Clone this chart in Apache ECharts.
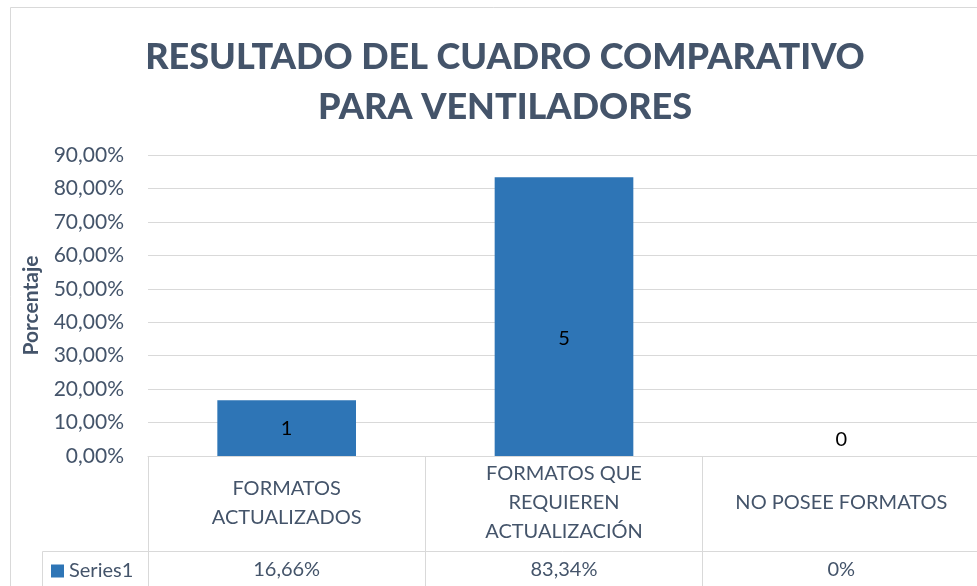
<!DOCTYPE html>
<html>
<head>
<meta charset="utf-8">
<script src="https://cdn.jsdelivr.net/npm/echarts@6/dist/echarts.min.js"></script>
<style>
  html, body { margin: 0; padding: 0; background: #fff; }
  #chart { width: 977px; height: 586px; }
</style>
</head>
<body>
<div id="chart"></div>
<script>
// datos del gráfico
const categories = ['FORMATOS\nACTUALIZADOS', 'FORMATOS QUE\nREQUIEREN\nACTUALIZACIÓN', 'NO POSEE FORMATOS']
const percentValues = [16.66, 83.34, 0]
const countLabels = [1, 5, 0]
const tableLabels = ['16,66%', '83,34%', '0%']
const yTicks = [0, 10, 20, 30, 40, 50, 60, 70, 80, 90]

const textColor = '#44546a'
const lineColor = '#d9d9d9'
const font = 'Lato, "Open Sans", sans-serif'

const chart = echarts.init(document.getElementById('chart'))

// posición de cada etiqueta de conteo
const labelSpots = [
  { position: 'inside', offset: [0, 0] },
  { position: 'inside', offset: [0, 22] },
  { position: 'top', offset: [0, 0] }
]

const option = {
  backgroundColor: '#fff',
  title: {
    text: 'RESULTADO DEL CUADRO COMPARATIVO\nPARA VENTILADORES',
    left: 500,
    top: 27,
    textAlign: 'center',
    textStyle: {
      fontFamily: font,
      fontWeight: 900,
      fontSize: 36,
      lineHeight: 50,
      color: textColor
    }
  },
  legend: {
    data: ['Series1'],
    left: 46,
    top: 556,
    icon: 'rect',
    itemWidth: 13,
    itemHeight: 13,
    itemGap: 6,
    textStyle: { fontFamily: font, fontSize: 20, color: textColor }
  },
  grid: {
    left: 148,
    top: 155,
    right: -3,
    bottom: 130,
    outerBoundsMode: 'none',
    containLabel: false
  },
  xAxis: [
    {
      type: 'category',
      data: categories,
      position: 'bottom',
      axisLine: { lineStyle: { color: lineColor } },
      axisTick: { show: true, length: 130, lineStyle: { color: lineColor } },
      axisLabel: {
        interval: 0,
        margin: 47,
        verticalAlign: 'middle',
        fontFamily: font,
        fontSize: 20,
        lineHeight: 29,
        color: textColor
      }
    },
    {
      type: 'category',
      data: tableLabels,
      position: 'bottom',
      offset: 95,
      axisLine: { show: true, lineStyle: { color: lineColor } },
      axisTick: { show: false },
      axisLabel: {
        interval: 0,
        margin: 19,
        verticalAlign: 'middle',
        fontFamily: font,
        fontSize: 20,
        color: textColor
      }
    }
  ],
  yAxis: {
    type: 'value',
    min: yTicks[0],
    max: yTicks[yTicks.length - 1],
    interval: 10,
    name: 'Porcentaje',
    nameLocation: 'middle',
    nameGap: 106,
    nameRotate: 90,
    nameTextStyle: { fontFamily: font, fontWeight: 'bold', fontSize: 21, color: textColor },
    axisLine: { show: false },
    axisTick: { show: false },
    axisLabel: {
      margin: 24,
      fontFamily: font,
      fontSize: 21,
      color: textColor,
      formatter: v => v.toFixed(2).replace('.', ',') + '%'
    },
    splitLine: { lineStyle: { color: lineColor, width: 1 } }
  },
  series: [
    {
      name: 'Series1',
      type: 'bar',
      xAxisIndex: 0,
      barWidth: '50%',
      itemStyle: { color: '#2e75b6' },
      data: percentValues.map((v, i) => ({
        value: v,
        label: {
          show: true,
          position: labelSpots[i].position,
          offset: labelSpots[i].offset,
          distance: 6,
          formatter: () => String(countLabels[i]),
          fontFamily: font,
          fontSize: 20,
          color: '#000'
        }
      }))
    }
  ],
  graphic: [
    // borde exterior
    { type: 'line', shape: { x1: 10.5, y1: 7.5, x2: 10.5, y2: 586 }, style: { stroke: lineColor, lineWidth: 1 } },
    { type: 'line', shape: { x1: 10.5, y1: 7.5, x2: 977, y2: 7.5 }, style: { stroke: lineColor, lineWidth: 1 } },
    // celda de la leyenda en la tabla
    { type: 'line', shape: { x1: 42.5, y1: 551.5, x2: 148, y2: 551.5 }, style: { stroke: lineColor, lineWidth: 1 } },
    { type: 'line', shape: { x1: 42.5, y1: 551.5, x2: 42.5, y2: 586 }, style: { stroke: lineColor, lineWidth: 1 } }
  ]
}

chart.setOption(option)
</script>
</body>
</html>
